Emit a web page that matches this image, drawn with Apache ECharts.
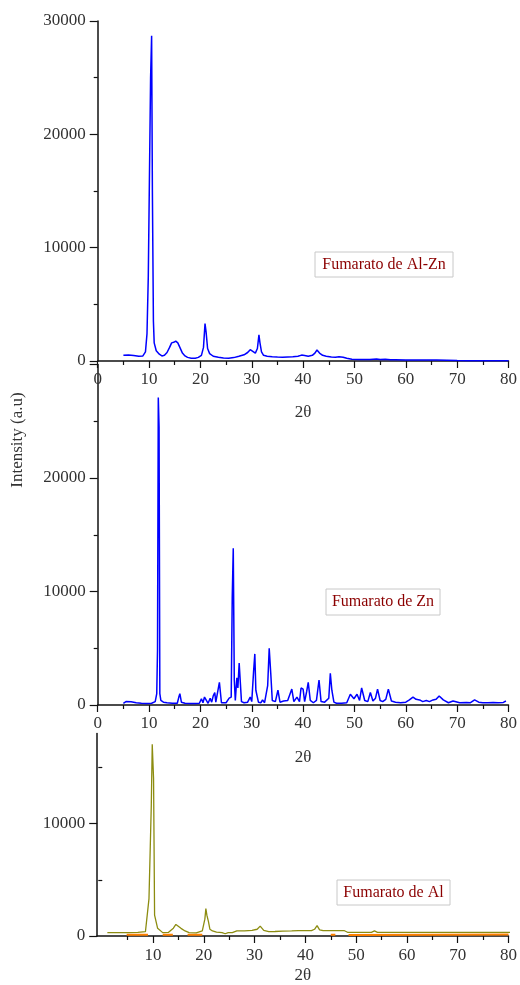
<!DOCTYPE html>
<html>
<head>
<meta charset="utf-8">
<script src="https://cdn.jsdelivr.net/npm/echarts@6/dist/echarts.min.js"></script>
<style>html,body{margin:0;padding:0;background:#fff}#c{width:520px;height:985px}</style>
</head>
<body>
<div id="c"></div>
<script>
// ---- data (2θ, intensity) ----
var alZnX = [5, 6, 7, 8, 8.8, 9.3, 9.6, 9.85, 10.3, 10.5, 10.65, 10.85, 11.0, 11.4, 12, 12.5, 13, 13.5, 14, 14.4, 14.8, 15.2, 15.6, 16.0, 16.5, 17, 17.5, 18.2, 19, 19.6, 20.2, 20.6, 20.9, 21.1, 21.4, 21.8, 22.5, 23.5, 24.5, 25.5, 26.5, 27.5, 28.5, 29.2, 29.7, 30.2, 30.7, 31.1, 31.4, 31.6, 31.9, 32.3, 33, 34, 35, 36, 37, 38, 39, 39.7, 40.3, 41, 41.8, 42.3, 42.7, 43.2, 43.8, 44.5, 45.5, 46.3, 47, 47.8, 48.5, 49.5, 51, 53, 54.3, 55, 56, 57, 58, 60, 62, 64, 66, 68, 70, 72, 74, 76, 78, 80];
var alZnY = [500, 530, 480, 420, 450, 800, 2400, 7400, 25000, 28700, 15000, 3500, 1600, 900, 600, 450, 500, 750, 1200, 1600, 1650, 1750, 1600, 1200, 700, 450, 320, 250, 250, 320, 500, 1200, 3300, 2600, 1100, 650, 420, 330, 260, 250, 300, 420, 550, 750, 1000, 850, 700, 1100, 2300, 1600, 800, 500, 420, 380, 350, 340, 360, 380, 420, 520, 480, 420, 500, 700, 970, 700, 500, 420, 350, 330, 380, 330, 250, 150, 140, 130, 180, 140, 160, 100, 110, 90, 90, 80, 80, 60, 40, 30, 30, 30, 25, 25];

var znX = [5, 5.5, 6.5, 7.5, 8.5, 9.5, 10.5, 11.2, 11.5, 11.65, 11.8, 11.95, 12.1, 12.3, 12.8, 13.5, 14.5, 15.5, 15.8, 16.0, 16.3, 17, 18, 19, 19.8, 20.2, 20.5, 20.8, 21.1, 21.5, 21.9, 22.2, 22.5, 22.8, 23.0, 23.3, 23.7, 23.9, 24.1, 24.4, 25, 25.6, 26.0, 26.2, 26.4, 26.6, 26.8, 27.1, 27.3, 27.55, 27.8, 28.0, 28.5, 29.2, 29.7, 30.0, 30.35, 30.6, 30.8, 31.0, 31.3, 31.8, 32.1, 32.5, 33.1, 33.4, 33.7, 34.0, 34.6, 35.1, 35.5, 36.2, 37.0, 37.8, 38.2, 38.8, 39.3, 39.6, 40.0, 40.3, 40.7, 41.0, 41.4, 42.0, 42.6, 43.1, 43.5, 44.2, 45.0, 45.3, 45.6, 46.0, 46.5, 47.5, 48.5, 49.2, 49.9, 50.5, 51.0, 51.4, 52.0, 52.6, 53.1, 53.6, 54.1, 54.5, 55.0, 55.5, 56.1, 56.6, 57.2, 58.0, 59, 60, 60.7, 61.4, 62.0, 62.7, 63.3, 64.0, 64.6, 65.3, 65.9, 66.5, 67.3, 68.3, 69.2, 70.5, 71.8, 72.6, 73.4, 74.2, 75, 76, 77, 78, 79, 79.5];
var znY = [150, 300, 280, 200, 150, 130, 150, 300, 1000, 4850, 27100, 24500, 1000, 400, 250, 200, 150, 150, 700, 1000, 250, 150, 130, 130, 150, 550, 200, 700, 600, 150, 600, 250, 800, 1100, 250, 200, 2000, 2000, 200, 150, 200, 600, 700, 9500, 13800, 2200, 400, 2400, 1500, 3700, 1800, 300, 200, 250, 700, 300, 2900, 4500, 1300, 1300, 250, 200, 450, 200, 1700, 5000, 2800, 400, 300, 1300, 250, 350, 400, 1400, 300, 700, 300, 1500, 1400, 300, 1200, 2000, 400, 200, 400, 2200, 300, 250, 600, 2800, 1300, 250, 150, 150, 200, 950, 550, 950, 400, 1500, 400, 300, 1100, 350, 600, 1400, 400, 300, 500, 1400, 350, 250, 200, 250, 450, 700, 500, 450, 300, 400, 300, 450, 500, 800, 450, 200, 350, 200, 230, 200, 450, 250, 200, 200, 230, 200, 230, 350];

var alX = [1, 3, 5, 7, 8.5, 9.2, 9.65, 9.84, 10.1, 10.3, 10.9, 11.9, 13, 14, 14.5, 15.5, 16.3, 17.1, 18.5, 19.7, 20.2, 20.4, 20.6, 20.9, 21.2, 21.7, 22.5, 23.6, 24.2, 24.8, 25.6, 26.5, 28, 29.5, 30.5, 31.1, 31.8, 32.8, 34, 35.5, 37.3, 38.6, 40, 41.2, 41.8, 42.3, 42.8, 43.5, 45, 46.5, 47.7, 48.3, 50, 53, 53.6, 54.2, 58, 62, 66, 70, 74, 77, 79, 81.5];
var alY = [300, 300, 300, 320, 380, 3330, 11550, 17060, 14000, 1850, 680, 300, 320, 700, 1030, 680, 450, 300, 280, 450, 1500, 2440, 1850, 1300, 600, 450, 350, 300, 200, 300, 300, 450, 450, 500, 600, 880, 500, 390, 400, 430, 450, 470, 470, 480, 600, 920, 550, 470, 470, 470, 470, 330, 330, 330, 450, 330, 330, 330, 330, 330, 330, 330, 330, 330];

var alBgX = [4.8, 9.0, 10, 11.9, 13.9, 15, 16.8, 19.7, 30, 45.0, 45.9, 47, 48.5, 65, 80];
var alBgY = [120, 120, null, 120, 120, null, 120, 120, null, 120, 120, null, 80, 120, 130];

var xTicksMajor = [10, 20, 30, 40, 50, 60, 70, 80];
var xTicksMinor = [5, 15, 25, 35, 45, 55, 65, 75];
var yBottomMajor = [0, 10000];
var yBottomMinor = [5000, 15000];

var panelLabels = ['Fumarato de Al-Zn', 'Fumarato de Zn', 'Fumarato de Al'];
var xName = '2θ';
var yName = 'Intensity (a.u)';

function pairs(xs, ys) {
  return xs.map(function (x, i) { return [x, ys[i] === null ? '-' : ys[i]]; });
}
function plain(v) { return String(v); }

var FONT = 'Liberation Serif';
var labelStyle = { fontFamily: FONT, fontSize: 17, color: '#333', formatter: plain };
var lineStyleAxis = { color: '#111', width: 1.5 };

function xAx(grid, extra) {
  return Object.assign({
    type: 'value', gridIndex: grid, min: 0, max: 80, interval: 10,
    axisLine: { show: true, onZero: false, lineStyle: lineStyleAxis },
    axisTick: { show: true, length: 7, lineStyle: { color: '#111', width: 1.2 } },
    minorTick: { show: true, splitNumber: 2, length: 4, lineStyle: { color: '#111', width: 1.2 } },
    splitLine: { show: false }, minorSplitLine: { show: false },
    axisLabel: Object.assign({ margin: 10 }, labelStyle),
    name: xName, nameLocation: 'middle', nameGap: 43,
    nameTextStyle: { fontFamily: FONT, fontSize: 17, color: '#333' }
  }, extra || {});
}
function yAx(grid, max, extra) {
  return Object.assign({
    type: 'value', gridIndex: grid, min: 0, max: max, interval: 10000,
    axisLine: { show: true, onZero: false, lineStyle: lineStyleAxis },
    axisTick: { show: true, length: 8, lineStyle: { color: '#111', width: 1.2 } },
    minorTick: { show: true, splitNumber: 2, length: 4, lineStyle: { color: '#111', width: 1.2 } },
    splitLine: { show: false }, minorSplitLine: { show: false },
    axisLabel: Object.assign({ margin: 12 }, labelStyle)
  }, extra || {});
}

function box(cx, top, w, h, text) {
  return {
    type: 'group', children: [
      { type: 'rect', shape: { x: cx - w / 2, y: top, width: w, height: h },
        style: { fill: '#fff', stroke: '#c8c8c8', lineWidth: 1 }, z: 10 },
      { type: 'text', x: cx, y: top + h / 2, z: 11,
        style: { text: text, fill: '#8b0000', font: '16px "Liberation Serif"', textAlign: 'center', textVerticalAlign: 'middle' } }
    ]
  };
}

var chart = echarts.init(document.getElementById('c'), null, { renderer: 'canvas' });
chart.setOption({
  animation: false,
  backgroundColor: '#fff',
  grid: [
    { left: 97.7, top: 21, width: 411.3, height: 340 },
    { left: 97.7, top: 364.5, width: 411.3, height: 340.5 },
    { left: 97.2, top: 733.6, width: 415.1, height: 204.1 }
  ],
  xAxis: [
    xAx(0),
    xAx(1, { nameGap: 44 }),
    xAx(2, { min: -1, interval: null, nameGap: 31,
      axisTick: { show: true, length: 7, customValues: xTicksMajor, lineStyle: { color: '#111', width: 1.2 } },
      minorTick: { show: false },
      axisLabel: Object.assign({ margin: 11, customValues: xTicksMajor }, labelStyle) }),
    { type: 'value', gridIndex: 2, min: -1, max: 80, position: 'bottom',
      axisLine: { show: false }, splitLine: { show: false },
      axisTick: { show: true, length: 4, customValues: xTicksMinor, lineStyle: { color: '#111', width: 1.2 } },
      axisLabel: { show: false } }
  ],
  yAxis: [
    yAx(0, 30000),
    yAx(1, 30000, { axisLabel: Object.assign({ margin: 12, showMaxLabel: false }, labelStyle) }),
    yAx(2, 18000, { interval: null,
      axisTick: { show: true, length: 8, customValues: yBottomMajor, lineStyle: { color: '#111', width: 1.2 } },
      minorTick: { show: false },
      axisLabel: Object.assign({ margin: 12, customValues: yBottomMajor }, labelStyle) }),
    { type: 'value', gridIndex: 2, min: 0, max: 18000, position: 'left',
      axisLine: { show: false }, splitLine: { show: false },
      axisTick: { show: true, length: 4, customValues: yBottomMinor, lineStyle: { color: '#111', width: 1.2 } },
      axisLabel: { show: false } }
  ],
  series: [
    { type: 'line', xAxisIndex: 0, yAxisIndex: 0, data: pairs(alZnX, alZnY), showSymbol: false,
      lineStyle: { color: '#0000ff', width: 1.5 }, itemStyle: { color: '#0000ff' } },
    { type: 'line', xAxisIndex: 1, yAxisIndex: 1, data: pairs(znX, znY), showSymbol: false,
      lineStyle: { color: '#0000ff', width: 1.5 }, itemStyle: { color: '#0000ff' } },
    { type: 'line', xAxisIndex: 2, yAxisIndex: 2, data: pairs(alBgX, alBgY), showSymbol: false,
      connectNulls: false, lineStyle: { color: '#ff8000', width: 2 }, itemStyle: { color: '#ff8000' } },
    { type: 'line', xAxisIndex: 2, yAxisIndex: 2, data: pairs(alX, alY), showSymbol: false, clip: false,
      lineStyle: { color: '#8c8c10', width: 1.3 }, itemStyle: { color: '#8c8c10' } }
  ],
  graphic: [
    { type: 'text', x: 18, y: 440, rotation: Math.PI / 2,
      style: { text: yName, fill: '#333', font: '17px "Liberation Serif"', textAlign: 'center', textVerticalAlign: 'middle' } },
    box(384, 252, 138, 25, panelLabels[0]),
    box(383, 589, 114, 26, panelLabels[1]),
    box(393.5, 880, 113, 25, panelLabels[2])
  ]
});
</script>
</body>
</html>
